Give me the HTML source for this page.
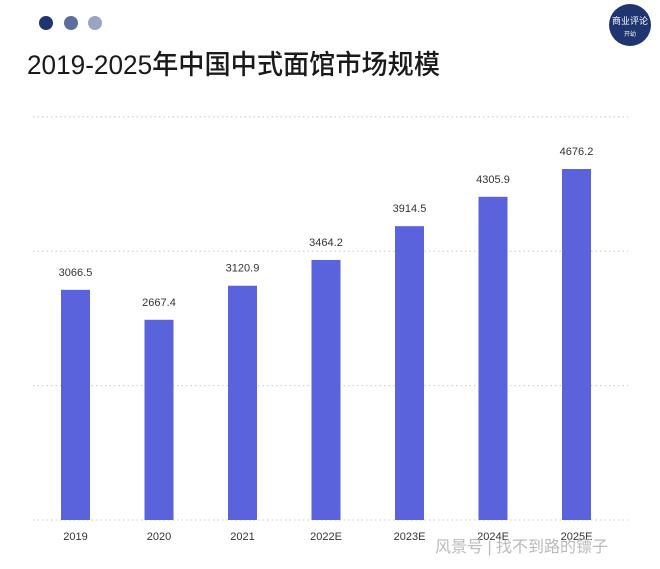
<!DOCTYPE html>
<html><head><meta charset="utf-8"><style>
body{margin:0;background:#fff;width:660px;height:564px;overflow:hidden;font-family:"Liberation Sans","Noto Sans CJK SC",sans-serif}
</style></head><body>
<svg width="660" height="564">
<circle cx="46" cy="23" r="7" fill="#1f3570"/>
<circle cx="71" cy="23" r="7" fill="#5b6e9c"/>
<circle cx="95" cy="23" r="7" fill="#9aa6c1"/>
<g><circle cx="630" cy="25" r="21" fill="#1f3570"/>
<text x="630" y="24" font-size="9" fill="#fff" text-anchor="middle">商业评论</text>
<text x="630" y="36" font-size="6" fill="#fff" text-anchor="middle">开幼</text></g>
<text x="27" y="74" font-size="27" font-weight="500" fill="#1a1a1a" textLength="413" lengthAdjust="spacingAndGlyphs">2019-2025年中国中式面馆市场规模</text>
<g id="grid"></g><g id="bars"></g>
<text x="435" y="552" font-size="16" fill="#aaa" opacity="0.8">风景号 | 找不到路的镖子</text>
</svg>
<script>
const categories=["2019","2020","2021","2022E","2023E","2024E","2025E"];
const values=[3066.5,2667.4,3120.9,3464.2,3914.5,4305.9,4676.2];
const labels=["3066.5","2667.4","3120.9","3464.2","3914.5","4305.9","4676.2"];
const gridValues=[0,1790,3580,5370];
const ns="http://www.w3.org/2000/svg";
const base=520,k=351/4676.2;
const y=v=>base-v*k;
const x=i=>61+i*83.5;
const g=document.getElementById('grid'),b=document.getElementById('bars');
gridValues.forEach(v=>{const l=document.createElementNS(ns,'line');
l.setAttribute('x1',33);l.setAttribute('x2',628);l.setAttribute('y1',y(v));l.setAttribute('y2',y(v));
l.setAttribute('stroke','#c8c8c8');l.setAttribute('stroke-dasharray','1.5,3');


g.appendChild(l);});
values.forEach((v,i)=>{const r=document.createElementNS(ns,'rect');
r.setAttribute('x',x(i));r.setAttribute('y',y(v));r.setAttribute('width',29);r.setAttribute('height',base-y(v));r.setAttribute('fill','#5a63dc');


b.appendChild(r);
const t=document.createElementNS(ns,'text');t.setAttribute('x',x(i)+14.5);t.setAttribute('y',y(v)-14);
t.setAttribute('text-anchor','middle');t.setAttribute('font-size','11');t.setAttribute('fill','#333');t.textContent=labels[i];


b.appendChild(t);
const c=document.createElementNS(ns,'text');c.setAttribute('x',x(i)+14.5);c.setAttribute('y',540);
c.setAttribute('text-anchor','middle');c.setAttribute('font-size','11');c.setAttribute('fill','#333');c.textContent=categories[i];


b.appendChild(c);});
</script>
</body></html>
